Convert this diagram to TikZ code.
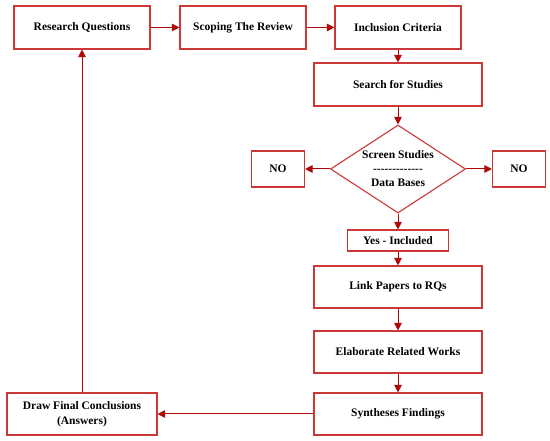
\documentclass[tikz,border=0pt]{standalone}
\usepackage{fontspec}
\setmainfont{Liberation Serif}
\usetikzlibrary{shapes.geometric,arrows.meta}
\definecolor{boxred}{RGB}{204,55,55}
\definecolor{arrowred}{RGB}{172,8,8}
\tikzset{
  stage/.style={draw=boxred,line width=1.1pt,font=\fontsize{11.5}{15}\selectfont\bfseries,
    minimum width=168pt,minimum height=42pt,inner sep=2pt,align=center},
  screen/.style={diamond,draw=boxred,line width=1.1pt,font=\fontsize{11.5}{14}\selectfont\bfseries,
    minimum width=135pt,minimum height=88pt,aspect=1.53,inner sep=0pt,align=center},
  flow/.style={draw=arrowred,line width=1pt,-{Triangle[length=7.5pt,width=7.5pt]}},
}
\begin{document}
\begin{tikzpicture}
\useasboundingbox (0,0) rectangle (550pt,441pt);

\node[stage,minimum width=136pt,minimum height=43pt] (rq) at (82pt,413.5pt) {Research Questions};
\node[stage,minimum width=126pt,minimum height=43pt] (scope) [right of=rq,node distance=161pt] {Scoping The Review};
\node[stage,minimum width=126pt,minimum height=43pt] (incl) [right of=scope,node distance=155pt] {Inclusion Criteria};
\node[stage,minimum height=43pt] (search) [below of=incl,node distance=57pt] {Search for Studies};
\node[screen] (screen) [below of=search,node distance=84.5pt] {Screen Studies\\-{}-{}-{}-{}-{}-{}-{}-{}-{}-{}-{}-{}-\\Data Bases};
\node[stage,minimum width=53pt,minimum height=36pt] (noleft) [left of=screen,node distance=120pt] {NO};
\node[stage,minimum width=53pt,minimum height=36pt] (noright) [right of=screen,node distance=121pt] {NO};
\node[stage,minimum width=101pt,minimum height=21pt] (yes) [below of=screen,node distance=71.5pt] {Yes - Included};
\node[stage] (link) [below of=yes,node distance=46.5pt] {Link Papers to RQs};
\node[stage] (elab) [below of=link,node distance=65pt] {Elaborate Related Works};
\node[stage] (synth) [below of=elab,node distance=62pt] {Syntheses Findings};
\node[stage,minimum width=150pt] (final) [left of=synth,node distance=316pt] {Draw Final Conclusions\\(Answers)};

\draw[flow] (rq) -- (scope);
\draw[flow] (scope) -- (incl);
\draw[flow] (incl) -- (search);
\draw[flow] (search) -- (screen);
\draw[flow] (screen) -- (noleft);
\draw[flow] (screen) -- (noright);
\draw[flow] (screen) -- (yes);
\draw[flow] (yes) -- (link);
\draw[flow] (link) -- (elab);
\draw[flow] (elab) -- (synth);
\draw[flow] (synth) -- (final);
\draw[flow] (final) -- (rq);
\end{tikzpicture}
\end{document}
